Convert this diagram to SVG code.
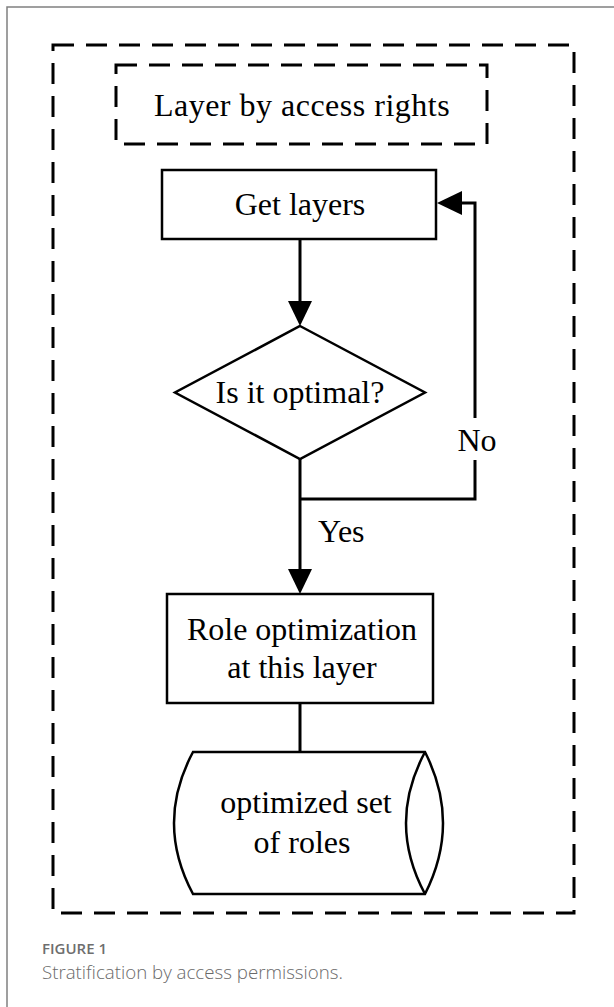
<svg xmlns="http://www.w3.org/2000/svg" width="614" height="1007" viewBox="0 0 614 1007">
<defs>
<style>
.t{font-family:"Liberation Serif","Times New Roman",serif;font-size:32px;fill:#000;text-anchor:middle}
.box{fill:#fff;stroke:#000;stroke-width:2.5}
.dash{fill:none;stroke:#000;stroke-width:3;stroke-dasharray:21 12}
.con{fill:none;stroke:#000;stroke-width:3}
.cap1{font-family:"Open Sans","Liberation Sans",sans-serif;font-size:15px;font-weight:600;fill:#6e6e6e}
.cap2{font-family:"Open Sans","Liberation Sans",sans-serif;font-size:18.7px;font-weight:300;fill:#6a6a6a}
</style>
<marker id="arr" markerUnits="userSpaceOnUse" markerWidth="25" markerHeight="24" viewBox="0 0 25 24" refX="0" refY="12" orient="auto">
<path d="M0,0 L25,12 L0,24 Z" fill="#000"/>
</marker>
</defs>
<rect width="614" height="1007" fill="#fff"/>
<path d="M7,1007 V7 H614" fill="none" stroke="#808080" stroke-width="1.5"/>
<g id="outer-frame">
<rect class="dash" x="53" y="45" width="521" height="868"/>
</g>
<g id="title">
<rect class="dash" x="116" y="65" width="371" height="79"/>
<text class="t" x="302" y="116" letter-spacing="0.5">Layer by access rights</text>
</g>
<g id="get-layers">
<rect class="box" x="162" y="170" width="274" height="69"/>
<text class="t" x="300" y="215">Get layers</text>
</g>
<g id="is-optimal">
<polygon class="box" stroke-width="2" points="300,326 425,392.5 300,459 175,392.5"/>
<text class="t" x="300" y="403">Is it optimal?</text>
</g>
<g id="role-optimization">
<rect class="box" x="167" y="594" width="266" height="109"/>
<text class="t" x="302" y="640">Role optimization</text>
<text class="t" x="302" y="678">at this layer</text>
</g>
<g id="optimized-roles">
<path class="box" d="M193,752 H425 Q461,823 425,894 H193 Q155,823 193,752 Z"/>
<path class="box" fill="none" d="M425,752 Q387,823 425,894"/>
<text class="t" x="306" y="813">optimized set</text>
<text class="t" x="302" y="853">of roles</text>
</g>
<g id="connectors">
<path class="con" d="M300,239 V301" marker-end="url(#arr)"/>
<path class="con" d="M300,459 V569" marker-end="url(#arr)"/>
<path class="con" d="M300,499 H475 V460"/>
<path class="con" d="M475,418 V203 H462" marker-end="url(#arr)"/>
<path class="con" d="M300,703 V752"/>
<text class="t" x="477" y="451">No</text>
<text class="t" x="318" y="542" style="text-anchor:start">Yes</text>
</g>
<g id="caption">
<text class="cap1" x="42" y="954">FIGURE 1</text>
<text class="cap2" x="42" y="979">Stratification by access permissions.</text>
</g>
</svg>
